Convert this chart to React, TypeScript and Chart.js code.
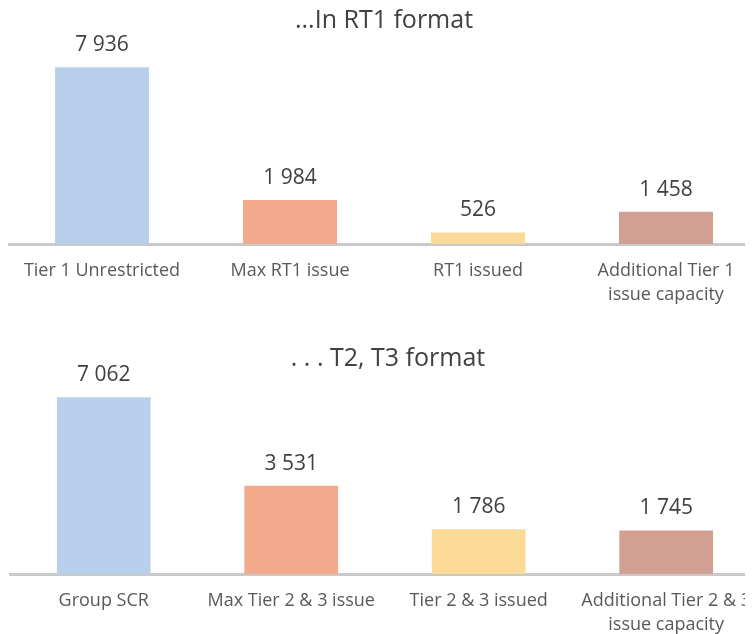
import React, { useEffect, useRef } from "react";
import { Chart, registerables } from "chart.js";

Chart.register(...registerables);

const topTitle = "...In RT1 format";
const topCategories: (string | string[])[] = [
  "Tier 1 Unrestricted",
  "Max RT1 issue",
  "RT1 issued",
  ["Additional Tier 1", "issue capacity"],
];
const topValues = [7936, 1984, 526, 1458];

const bottomTitle = ". . . T2, T3 format";
const bottomCategories: (string | string[])[] = [
  "Group SCR",
  "Max Tier 2 & 3 issue",
  "Tier 2 & 3 issued",
  ["Additional Tier 2 & 3", "issue capacity"],
];
const bottomValues = [7062, 3531, 1786, 1745];

const barColors = ["#B8D0EC", "#F3AA8C", "#FCDA98", "#D2A092"];

const FONT = "'Open Sans', 'Noto Sans', sans-serif";

const fmt = (v: number) => String(v).replace(/\B(?=(\d{3})+(?!\d))/g, " ");

const valueLabels = {
  id: "valueLabels",
  afterDatasetsDraw(chart: any) {
    const ctx = chart.ctx;
    const meta = chart.getDatasetMeta(0);
    const data = chart.data.datasets[0].data as number[];
    ctx.save();
    ctx.font = `21px ${FONT}`;
    ctx.fillStyle = "#404040";
    ctx.textAlign = "center";
    ctx.textBaseline = "middle";
    meta.data.forEach((bar: any, i: number) => {
      ctx.fillText(fmt(data[i]), bar.x, bar.y - 22);
    });
    ctx.restore();
  },
};

function BarPanel(props: {
  title: string;
  labels: (string | string[])[];
  values: number[];
  yMax: number;
  width: number;
  height: number;
  titleTop: number;
  leftPad: number;
  bottomPad: number;
}) {
  const ref = useRef<HTMLCanvasElement | null>(null);
  useEffect(() => {
    if (!ref.current) return;
    const chart = new Chart(ref.current, {
      type: "bar",
      data: {
        labels: props.labels,
        datasets: [
          {
            data: props.values,
            backgroundColor: barColors,
            borderWidth: 0,
            categoryPercentage: 1,
            barPercentage: 0.5,
          },
        ],
      },
      options: {
        responsive: false,
        animation: false,
        layout: { padding: { left: props.leftPad, right: 0, top: 0, bottom: props.bottomPad } },
        plugins: {
          legend: { display: false },
          tooltip: { enabled: false },
          title: {
            display: true,
            text: props.title,
            color: "#404040",
            font: { family: FONT, size: 25, weight: "normal" as any, lineHeight: 1 },
            padding: { top: props.titleTop, bottom: 10 },
          },
        },
        scales: {
          x: {
            grid: { display: false, drawTicks: false },
            border: { display: true, color: "#C9C9C9", width: 3 },
            ticks: {
              color: "#595959",
              font: { family: FONT, size: 18, lineHeight: 1.33 },
              padding: 15,
              maxRotation: 0,
              autoSkip: false,
            },
          },
          y: {
            display: false,
            min: 0,
            max: props.yMax,
          },
        },
      },
      plugins: [valueLabels],
    });
    return () => chart.destroy();
  }, []);
  return (
    <div style={{ width: 745, height: props.height, overflow: "hidden" }}>
      <canvas ref={ref} width={props.width} height={props.height} style={{ display: "block" }} />
    </div>
  );
}

export default function App() {
  return (
    <div style={{ background: "#fff" }}>
      <BarPanel
        title={topTitle}
        labels={topCategories}
        values={topValues}
        yMax={9024}
        width={752}
        height={314}
        titleTop={0}
        leftPad={0}
        bottomPad={0}
      />
      <BarPanel
        title={bottomTitle}
        labels={bottomCategories}
        values={bottomValues}
        yMax={7708}
        width={758}
        height={312}
        titleTop={24}
        leftPad={2}
        bottomPad={-18}
      />
    </div>
  );
}
